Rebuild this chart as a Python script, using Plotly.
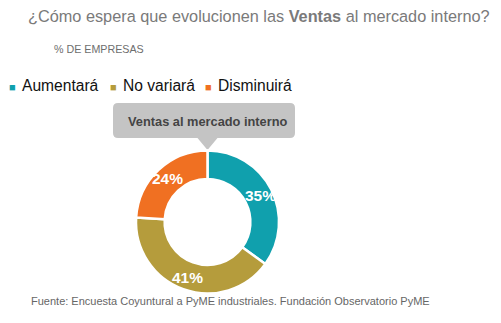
import math
import plotly.graph_objects as go

# Survey answers and their shares (% of companies)
labels = ["Aumentará", "No variará", "Disminuirá"]
values = [35, 41, 24]
colors = ["#10a0ad", "#b59c3c", "#f07022"]

title_plain = "¿Cómo espera que evolucionen las "
title_bold = "Ventas"
title_tail = " al mercado interno?"
subtitle = "% DE EMPRESAS"
box_label = "Ventas al mercado interno"
source = "Fuente: Encuesta Coyuntural a PyME industriales. Fundación Observatorio PyME"

W, H = 501, 323
FONT = "Liberation Sans, Arial, sans-serif"


def px(x):
    return x / W


def py(y):
    return 1 - y / H


# Ring geometry (pixels)
CX, CY, R_OUT = 207.5, 222.0, 71.5
LABEL_R = 59.0

fig = go.Figure()
fig.add_trace(go.Pie(
    labels=labels,
    values=values,
    hole=0.6,
    sort=False,
    direction="clockwise",
    rotation=0,
    marker=dict(colors=colors, line=dict(color="white", width=2.5)),
    textinfo="none",
    domain=dict(x=[px(CX - R_OUT), px(CX + R_OUT)], y=[py(CY + R_OUT), py(CY - R_OUT)]),
    showlegend=False,
    hoverinfo="label+percent",
))

annotations = [
    dict(x=px(26), y=py(16), text=title_plain + "<b>" + title_bold + "</b>" + title_tail,
         font=dict(family=FONT, size=16.3, color="#7a7a7a")),
    dict(x=px(52), y=py(49), text=subtitle,
         font=dict(family=FONT, size=10.7, color="#6e6e6e")),
    dict(x=px(29), y=py(301), text=source,
         font=dict(family=FONT, size=11, color="#666666")),
    dict(x=px(CX), y=py(121), text="<b>" + box_label + "</b>", xanchor="center",
         font=dict(family=FONT, size=12.8, color="#444444")),
]

# Percentage labels placed at the middle angle of each slice
total = sum(values)
start = 0.0
for v in values:
    mid = (start + v / 2) / total * 2 * math.pi
    start += v
    lx = CX + LABEL_R * math.sin(mid)
    ly = CY - LABEL_R * math.cos(mid)
    annotations.append(dict(x=px(lx), y=py(ly), text=f"<b>{v}%</b>", xanchor="center",
                            font=dict(family=FONT, size=15.5, color="white")))

# Legend row drawn as coloured squares followed by the category names
legend_x = [7, 108, 203]
for lx, lab, col in zip(legend_x, labels, colors):
    annotations.append(dict(x=px(lx), y=py(86.5), text="■",
                            font=dict(family=FONT, size=11, color=col)))
    annotations.append(dict(x=px(lx + 13), y=py(86), text=lab,
                            font=dict(family=FONT, size=15.6, color="#111111")))

for a in annotations:
    a.setdefault("xanchor", "left")
    a.update(xref="paper", yref="paper", yanchor="middle", showarrow=False)

# Rounded callout box with a pointer towards the ring
x0, x1, y0, y1, r = 113, 295, 103, 138, 5
tip = 150


def pt(x, y):
    return f"{px(x):.5f},{py(y):.5f}"


path = (
    f"M {pt(x0 + r, y0)} L {pt(x1 - r, y0)} Q {pt(x1, y0)} {pt(x1, y0 + r)} "
    f"L {pt(x1, y1 - r)} Q {pt(x1, y1)} {pt(x1 - r, y1)} "
    f"L {pt(CX + 10, y1)} L {pt(CX, tip)} L {pt(CX - 10, y1)} "
    f"L {pt(x0 + r, y1)} Q {pt(x0, y1)} {pt(x0, y1 - r)} "
    f"L {pt(x0, y0 + r)} Q {pt(x0, y0)} {pt(x0 + r, y0)} Z"
)

fig.update_layout(
    width=W, height=H,
    margin=dict(l=0, r=0, t=0, b=0),
    paper_bgcolor="white",
    plot_bgcolor="white",
    annotations=annotations,
    shapes=[dict(type="path", xref="paper", yref="paper", path=path,
                 fillcolor="#c4c4c4", line=dict(width=0), layer="below")],
)

fig.write_html("out.html")
